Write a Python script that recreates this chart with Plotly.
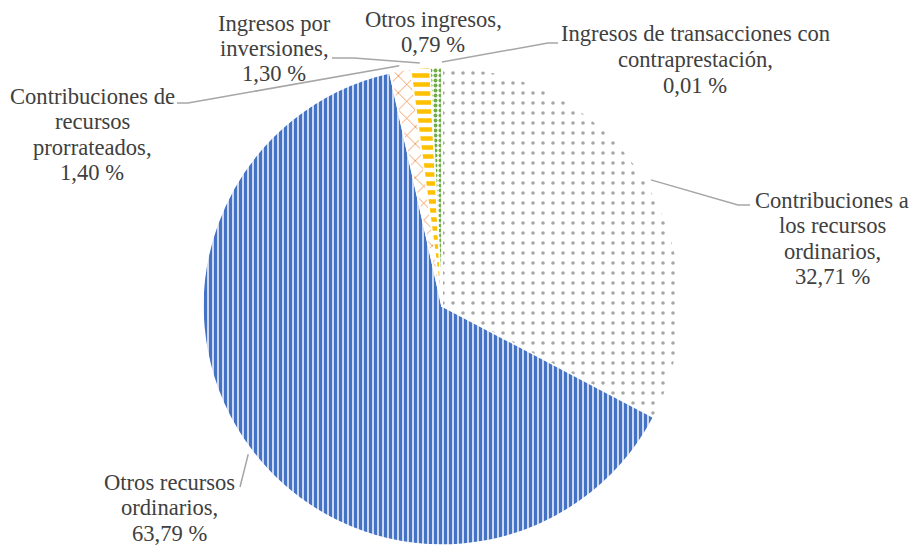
import math
import plotly.graph_objects as go

# data
categories = ["Contribuciones a los recursos ordinarios",
              "Otros recursos ordinarios",
              "Contribuciones de recursos prorrateados",
              "Ingresos por inversiones",
              "Otros ingresos",
              "Ingresos de transacciones con contraprestación"]
values = [32.71, 63.79, 1.40, 1.30, 0.79, 0.01]
label_lines = [["Contribuciones a", "los recursos", "ordinarios,"],
               ["Otros recursos", "ordinarios,"],
               ["Contribuciones de", "recursos", "prorrateados,"],
               ["Ingresos por", "inversiones,"],
               ["Otros ingresos,"],
               ["Ingresos de transacciones con", "contraprestación,"]]

# page has an 8px body margin, so the figure is drawn 8px in
OFF = 8
W, H = 912, 537
CX, CY, R = 442, 306, 239   # page pixels
FONT = "Liberation Serif"
LH = 25.5

# label block: centre x, first line centre y (page pixels)
label_pos = [(832, 200), (169, 482), (92, 96), (274, 23), (433, 19), (695, 34)]
elbows = [[(738, 205), (750, 205)],
          [(240, 487)],
          [(188, 103), (177, 103)],
          [(354, 58), (332, 58)],
          None,
          [(548, 43), (558, 43)]]


def px2paper(x, y):
    return (x - OFF) / W, 1 - (y - OFF) / H


fig = go.Figure()
fig.add_trace(go.Pie(
    labels=categories,
    values=values,
    sort=False,
    direction="clockwise",
    rotation=0,
    textinfo="none",
    hoverinfo="label+percent",
    domain=dict(x=[0, 2 * (CX - OFF) / W], y=[0, 2 * R / H]),
    marker=dict(
        colors=["white", "#cbd8f0", "white", "white", "white", "#5B9BD5"],
        line=dict(color="white", width=1.5),
        pattern=dict(
            shape=[".", "|", "x", "-", ".", ""],
            fgcolor=["#a6a6a6", "#4472C4", "#ED7D31", "#FFC000", "#70AD47", "#5B9BD5"],
            bgcolor=["white", "#cbd8f0", "white", "white", "white", "#5B9BD5"],
            size=[10, 5, 12, 9, 5, 6],
            solidity=[0.1, 0.6, 0.12, 0.5, 0.5, 0.3],
            fillmode="replace",
        ),
    ),
    showlegend=False,
))

total = sum(values)
cum = 0
for i, v in enumerate(values):
    mid = (cum + v / 2) / total * 360
    cum += v
    lx, ly = label_pos[i]
    lines = label_lines[i] + [f"{v:.2f} %".replace(".", ",")]
    for j, line in enumerate(lines):
        x, y = px2paper(lx, ly + j * LH)
        fig.add_annotation(x=x, y=y, xref="paper", yref="paper", text=line,
                           showarrow=False, xanchor="center", yanchor="middle",
                           font=dict(family=FONT, size=22.6, color="#404040"))
    if elbows[i] is None:
        continue
    r = R + 5
    ex = CX + r * math.sin(math.radians(mid))
    ey = CY - r * math.cos(math.radians(mid))
    pts = [(ex, ey)] + elbows[i]
    path = ""
    for k, (px, py) in enumerate(pts):
        qx, qy = px2paper(px, py)
        path += ("M" if k == 0 else " L") + f" {qx:.5f} {qy:.5f}"
    fig.add_shape(type="path", path=path, xref="paper", yref="paper",
                  line=dict(color="#a6a6a6", width=1.5))

fig.update_layout(
    width=W, height=H,
    margin=dict(l=0, r=0, t=0, b=0),
    font=dict(family=FONT, size=22.6, color="#404040"),
    paper_bgcolor="white",
    plot_bgcolor="white",
)

fig.write_html("out.html")
